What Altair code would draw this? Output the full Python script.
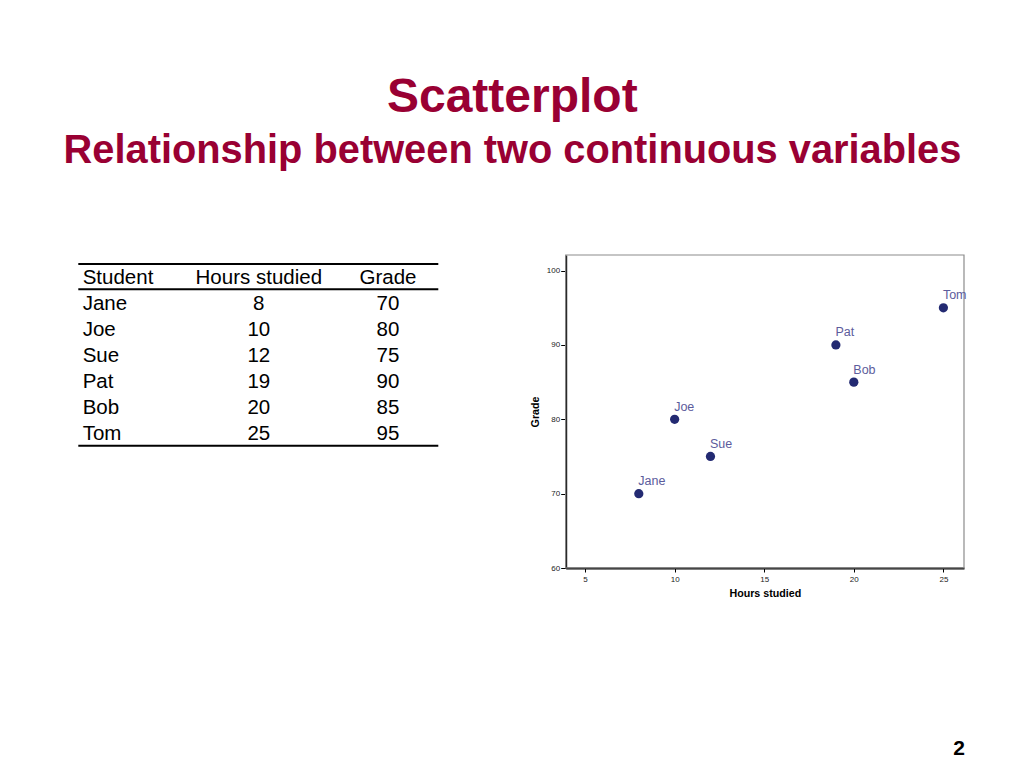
import altair as alt
import pandas as pd

# ---- data ----
students = ["Jane", "Joe", "Sue", "Pat", "Bob", "Tom"]
hours = [8, 10, 12, 19, 20, 25]
grades = [70, 80, 75, 90, 85, 95]
headers = ["Student", "Hours studied", "Grade"]

X_DOMAIN = [3.92, 26.15]
Y_DOMAIN = [60, 102.1]
X_TICKS = [5, 10, 15, 20, 25]
Y_TICKS = [60, 70, 80, 90, 100]

FONT = "Liberation Sans, Arial, Helvetica, sans-serif"
TITLE_COLOR = "#990033"
POINT_COLOR = "#232a72"
LABEL_COLOR = "#5c5c9c"

W, H = 1008, 752

scatter_df = pd.DataFrame({"student": students, "hours": hours, "grade": grades})

# table cells (long form)
cells = []
for c, h in enumerate(headers):
    cells.append({"row": 0, "col": c, "text": h})
for r, (s, hr, g) in enumerate(zip(students, hours, grades), start=1):
    cells.append({"row": r, "col": 0, "text": s})
    cells.append({"row": r, "col": 1, "text": str(hr)})
    cells.append({"row": r, "col": 2, "text": str(g)})
table_df = pd.DataFrame(cells)

row_scale = alt.Scale(domain=[0, 6], range=[276, 432], nice=False, zero=False)
col_scale = alt.Scale(domain=[0, 1, 2], range=[74.7, 250.8, 380], nice=False, zero=False)

table_base = alt.Chart(table_df).encode(
    x=alt.X("col:Q", scale=col_scale, axis=None),
    y=alt.Y("row:Q", scale=row_scale, axis=None),
    text="text:N",
)
table_left = table_base.transform_filter("datum.col == 0").mark_text(
    align="left", baseline="alphabetic", font=FONT, fontSize=20.5, color="black"
)
table_center = table_base.transform_filter("datum.col > 0").mark_text(
    align="center", baseline="alphabetic", font=FONT, fontSize=20.5, color="black"
)
table = alt.layer(table_left, table_center)

def hline(ypix):
    return alt.Chart(pd.DataFrame({"k": [0]})).mark_rule(
        color="black", strokeWidth=2
    ).encode(x=alt.value(70.3), x2=alt.value(430.3), y=alt.value(ypix))

rules = alt.layer(hline(256), hline(281.3), hline(437.7))

# ---- scatter ----
xs = alt.Scale(domain=X_DOMAIN, range=[557.7, 956], nice=False, zero=False)
ys = alt.Scale(domain=Y_DOMAIN, range=[560, 247], nice=False, zero=False)

x_axis = alt.Axis(
    values=X_TICKS,
    orient="bottom",
    offset=-(H - 560),
    grid=False,
    domainColor="black",
    domainWidth=2,
    tickColor="black",
    tickSize=4,
    tickWidth=1,
    labelFont=FONT,
    labelFontSize=8,
    labelColor="#222222",
    labelPadding=3,
    titleFont=FONT,
    titleFontSize=10.7,
    titleFontWeight="bold",
    titleColor="black",
    titlePadding=5,
)
y_axis = alt.Axis(
    values=Y_TICKS,
    orient="left",
    offset=-557.7,
    grid=False,
    domainColor="black",
    domainWidth=2,
    tickColor="black",
    tickSize=5,
    tickWidth=1,
    labelFont=FONT,
    labelFontSize=8,
    labelColor="#222222",
    labelPadding=1,
    titleFont=FONT,
    titleFontSize=10.7,
    titleFontWeight="bold",
    titleColor="black",
    titlePadding=6,
)

frame = alt.Chart(pd.DataFrame({"a": [0]})).mark_rect(
    fill="transparent", stroke="#8c8c8c", strokeWidth=1.2
).encode(
    x=alt.X("x1:Q", scale=xs, axis=x_axis, title="Hours studied"),
    x2="x2:Q",
    y=alt.Y("y1:Q", scale=ys, axis=y_axis, title="Grade"),
    y2="y2:Q",
).transform_calculate(
    x1=str(X_DOMAIN[0]), x2=str(X_DOMAIN[1]), y1=str(Y_DOMAIN[0]), y2=str(Y_DOMAIN[1])
)

pts_base = alt.Chart(scatter_df).encode(
    x=alt.X("hours:Q", scale=xs, axis=x_axis, title="Hours studied"),
    y=alt.Y("grade:Q", scale=ys, axis=y_axis, title="Grade"),
)
points = pts_base.mark_circle(size=85, color=POINT_COLOR, opacity=1)
labels = pts_base.mark_text(
    align="left", baseline="alphabetic", dx=-0.5, dy=-8.6,
    font=FONT, fontSize=12.5, color=LABEL_COLOR
).encode(text="student:N")

scatter = alt.layer(frame, points, labels)

# ---- titles ----
def txt(s, x, y, size, color, weight="bold", align="center", baseline="alphabetic"):
    return alt.Chart(pd.DataFrame({"t": [s]})).mark_text(
        align=align, baseline=baseline, font=FONT, fontSize=size,
        fontWeight=weight, color=color
    ).encode(text="t:N", x=alt.value(x), y=alt.value(y))

title = txt("Scatterplot", 504.3, 103.7, 48, TITLE_COLOR)
subtitle = txt("Relationship between two continuous variables", 504.5, 154.7, 39.8, TITLE_COLOR)
pagenum = txt("2", 951, 751, 21, "black", baseline="bottom")

chart = alt.layer(
    title, subtitle, pagenum, rules, table, scatter
).resolve_scale(x="independent", y="independent").properties(
    width=W, height=H, autosize=alt.AutoSizeParams(type="none"), padding=0,
    background="white",
).configure_view(stroke="transparent", strokeWidth=0)

chart.save("out.html", embed_options={"renderer": "svg", "actions": False})
